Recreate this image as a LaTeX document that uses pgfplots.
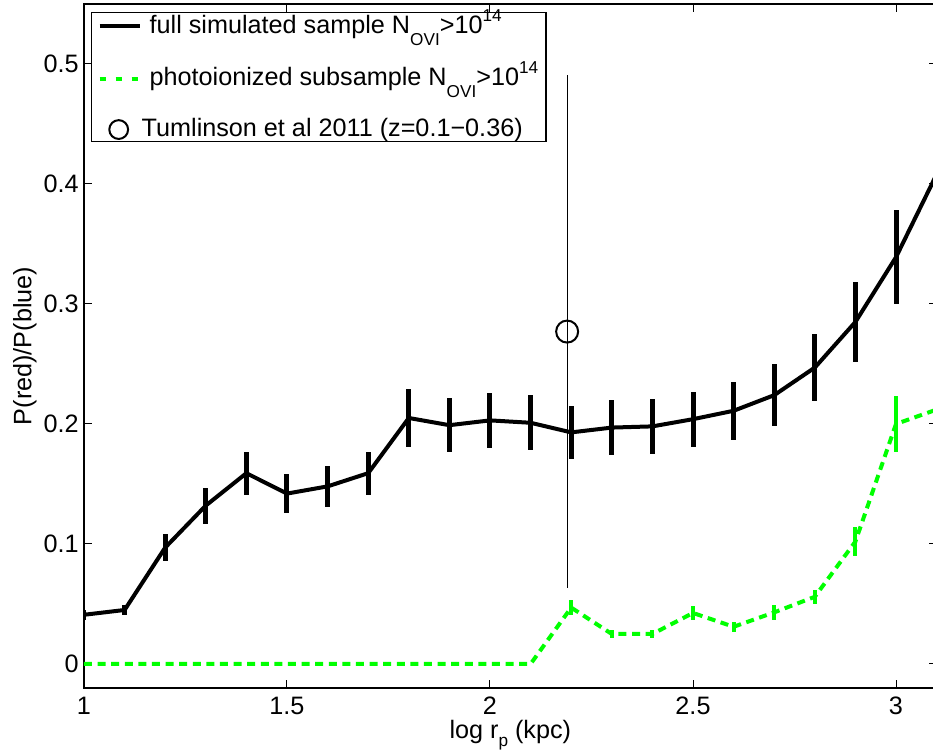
\documentclass[border=0pt]{standalone}
\usepackage{fontspec}
\setmainfont{Liberation Sans}
\usepackage{pgfplots}
\pgfplotsset{compat=1.18}
\usepackage{pgfplotstable}
\definecolor{mgreen}{RGB}{0,255,0}
\newcommand{\msub}[2][6pt]{\smash{\raisebox{-#1}{\fontsize{8.6}{10}\selectfont #2}}}
\newcommand{\msup}[1]{\smash{\raisebox{6pt}{\fontsize{8.6}{10}\selectfont #1}}}
\pgfplotsset{
  legline/.style={legend image code/.code={\path[use as bounding box, draw=none, fill=none] (0pt,5.7pt) rectangle (20pt,6.7pt); \draw[##1] (0pt,0pt) -- (20pt,0pt);}},
  legdash/.style={legend image code/.code={\path[use as bounding box, draw=none, fill=none] (0pt,5.7pt) rectangle (20pt,6.7pt); \draw[##1, dash pattern=on 3.4pt off 4.6pt] (0pt,0pt) -- (20pt,0pt);}},
  legcirc/.style={legend image code/.code={\draw[##1, mark size=4.7pt] plot coordinates {(9.5pt,0pt)};}},
}

\pgfplotstableread{
x y e
1.0 0.041 0.004
1.1 0.045 0.0045
1.2 0.097 0.011
1.3 0.132 0.015
1.4 0.159 0.018
1.5 0.142 0.016
1.6 0.148 0.017
1.7 0.159 0.018
1.8 0.205 0.024
1.9 0.199 0.0225
2.0 0.203 0.023
2.1 0.201 0.023
2.2 0.193 0.022
2.3 0.197 0.023
2.4 0.198 0.023
2.5 0.204 0.023
2.6 0.211 0.024
2.7 0.224 0.026
2.8 0.247 0.028
2.9 0.285 0.033
3.0 0.339 0.039
3.1 0.408 0
}\fulltab

\pgfplotstableread{
x y e
1.0 0 0
1.1 0 0
1.2 0 0
1.3 0 0
1.4 0 0
1.5 0 0
1.6 0 0
1.7 0 0
1.8 0 0
1.9 0 0
2.0 0 0
2.1 0 0
2.2 0.047 0.006
2.3 0.025 0.003
2.4 0.025 0.003
2.5 0.0425 0.006
2.6 0.031 0.004
2.7 0.043 0.006
2.8 0.056 0.006
2.9 0.102 0.012
3.0 0.200 0.023
3.1 0.212 0
}\phottab

\begin{document}
\fontsize{12.6}{15}\selectfont
\begin{tikzpicture}
\begin{axis}[
  name=ax,
  scale only axis,
  width=426.3pt, height=342pt,
  xmin=1, xmax=3.1,
  ymin=-0.02, ymax=0.55,
  xtick={1,1.5,2,2.5,3},
  ytick={0,0.1,0.2,0.3,0.4,0.5},
  xticklabels={1,1.5,2,2.5,3},
  yticklabels={0,0.1,0.2,0.3,0.4,0.5},
  tick align=inside,
  major tick length=4pt,
  tick style={line width=0.5pt, black},
  axis line style={line width=0.8pt},
  xticklabel style={inner sep=0pt, yshift=-4.5pt},
  yticklabel style={inner sep=0pt, xshift=-2.5pt},
  xlabel={log r\msub[4pt]{p} (kpc)},
  ylabel={P(red)/P(blue)},
  xlabel style={at={(axis description cs:0.5,0)}, anchor=base, inner sep=0pt, yshift=-25.5pt},
  ylabel style={at={(axis description cs:-0.0551,0.5)}, anchor=south, inner sep=0pt},
  legend cell align=left,
  legend style={at={(0,1)}, anchor=north west, xshift=3.5pt, yshift=-4pt,
    draw=black, line width=0.7pt, fill=white, inner xsep=4pt, inner ysep=0pt,
    nodes={inner xsep=0pt, inner ysep=0.5pt},
    row sep=13.5pt,
    /tikz/every odd column/.append style={column sep=5pt},
    font=\fontsize{12.6}{15}\selectfont},
]
\addplot[black, line width=2pt, legline,
  error bars/.cd, y dir=both, y explicit, error mark=none,
  error bar style={line width=2.5pt, solid}]
  table[x=x, y=y, y error=e] {\fulltab};
\addlegendentry{full simulated sample N\msub{OVI}>10\msup{14}}

\addplot[mgreen, line width=2pt, dash pattern=on 4pt off 2.8pt, legdash,
  error bars/.cd, y dir=both, y explicit, error mark=none,
  error bar style={line width=2pt, solid}]
  table[x=x, y=y, y error=e] {\phottab};
\addlegendentry{photoionized subsample N\msub{OVI}>10\msup{14}}

\addplot[black, only marks, mark=o, mark size=5.5pt, mark options={line width=1pt}, legcirc,
  error bars/.cd, y dir=both, y explicit, error mark=none,
  error bar style={line width=0.5pt}]
  coordinates {(2.19,0.277) +- (0,0.214)};
\addlegendentry{\hspace*{-4pt}\rule[-5.5pt]{0pt}{14.2pt}Tumlinson et al 2011 (z=0.1−0.36)}
\end{axis}
\pgfresetboundingbox
\path[use as bounding box] ([xshift=-42pt,yshift=-31pt]ax.south west) rectangle ([xshift=-1.8pt,yshift=2pt]ax.north east);
\end{tikzpicture}
\end{document}
